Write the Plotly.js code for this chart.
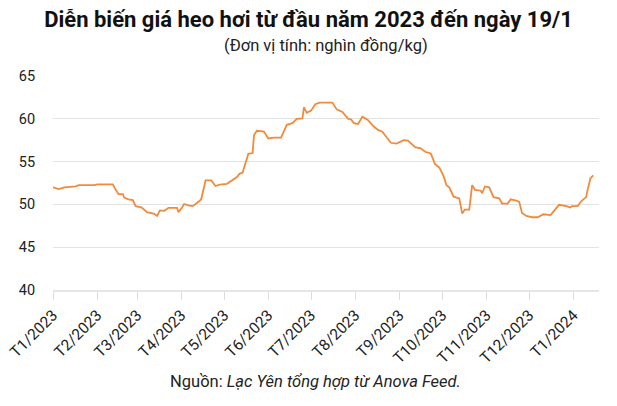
<!DOCTYPE html>
<html><head><meta charset="utf-8">
<script src="https://cdn.plot.ly/plotly-3.0.1.min.js"></script>
<style>html,body{margin:0;padding:0;background:#fff}#c{width:617px;height:406px}</style>
</head><body><div id="c"></div>
<script>
const dates = ["2023-01-01","2023-01-05","2023-01-09","2023-01-17","2023-01-19","2023-01-30","2023-02-01","2023-02-12","2023-02-14","2023-02-16","2023-02-19","2023-02-20","2023-02-23","2023-02-26","2023-02-28","2023-03-04","2023-03-08","2023-03-13","2023-03-15","2023-03-17","2023-03-20","2023-03-23","2023-03-29","2023-03-30","2023-04-01","2023-04-03","2023-04-06","2023-04-09","2023-04-13","2023-04-15","2023-04-18","2023-04-22","2023-04-25","2023-04-28","2023-05-03","2023-05-07","2023-05-10","2023-05-12","2023-05-14","2023-05-16","2023-05-18","2023-05-21","2023-05-22","2023-05-24","2023-05-29","2023-06-01","2023-06-05","2023-06-10","2023-06-14","2023-06-18","2023-06-21","2023-06-25","2023-06-26","2023-06-28","2023-07-01","2023-07-04","2023-07-07","2023-07-16","2023-07-19","2023-07-23","2023-07-27","2023-07-29","2023-07-31","2023-08-03","2023-08-06","2023-08-08","2023-08-10","2023-08-14","2023-08-17","2023-08-20","2023-08-23","2023-08-26","2023-08-30","2023-09-04","2023-09-07","2023-09-12","2023-09-16","2023-09-19","2023-09-23","2023-09-26","2023-09-29","2023-10-02","2023-10-04","2023-10-06","2023-10-09","2023-10-13","2023-10-15","2023-10-17","2023-10-20","2023-10-22","2023-10-24","2023-10-28","2023-10-29","2023-10-31","2023-11-03","2023-11-06","2023-11-10","2023-11-12","2023-11-16","2023-11-18","2023-11-22","2023-11-24","2023-11-26","2023-11-29","2023-12-03","2023-12-07","2023-12-11","2023-12-16","2023-12-18","2023-12-20","2023-12-22","2023-12-27","2023-12-30","2023-12-31","2024-01-04","2024-01-07","2024-01-10","2024-01-11","2024-01-13","2024-01-15"];
const prices = [52.0,51.8,52.0,52.1,52.25,52.25,52.35,52.35,51.7,51.2,51.2,50.8,50.6,50.5,49.8,49.65,49.1,48.9,48.65,49.3,49.25,49.6,49.6,49.1,49.5,50.05,49.9,49.8,50.3,50.6,52.8,52.8,52.15,52.3,52.4,52.8,53.2,53.6,53.7,54.8,55.9,56.0,58.1,58.6,58.5,57.7,57.8,57.8,59.3,59.5,60.0,60.05,61.35,60.7,60.95,61.7,61.9,61.9,61.1,60.8,60.0,59.95,59.5,59.4,60.25,60.05,59.85,59.1,58.7,58.5,57.9,57.2,57.1,57.5,57.45,56.7,56.55,56.15,55.95,54.7,54.3,53.3,52.25,52.0,50.9,50.7,48.95,49.4,49.4,52.25,51.7,51.6,51.3,52.1,52.0,50.85,50.7,50.1,50.1,50.6,50.45,50.3,49.0,48.65,48.5,48.5,48.85,48.75,49.15,49.55,49.95,49.8,49.65,49.8,49.8,50.45,50.85,51.7,53.05,53.4];
const tickDates = ["2023-01-01","2023-02-01","2023-03-01","2023-04-01","2023-05-01","2023-06-01","2023-07-01","2023-08-01","2023-09-01","2023-10-01","2023-11-01","2023-12-01","2024-01-01"];
const tickLabels = ["T1/2023","T2/2023","T3/2023","T4/2023","T5/2023","T6/2023","T7/2023","T8/2023","T9/2023","T10/2023","T11/2023","T12/2023","T1/2024"];
const yTicks = [40,45,50,55,60,65];

Plotly.newPlot('c', [{
  x: dates, y: prices, type: 'scatter', mode: 'lines',
  line: {color: '#f28a3c', width: 1.8}, hoverinfo: 'skip'
}], {
  width: 617, height: 406,
  margin: {l: 53, r: 18, t: 76, b: 116},
  paper_bgcolor: '#fff', plot_bgcolor: '#fff',
  font: {family: 'Roboto, Arial, sans-serif', color: '#222'},
  showlegend: false,
  title: {text: '<b>Diễn biến giá heo hơi từ đầu năm 2023 đến ngày 19/1</b>', x: 0.5, xanchor: 'center', y: 0.952, yanchor: 'middle', font: {size: 22, color: '#111'}},
  xaxis: {
    type: 'date', range: ['2023-01-01', '2024-01-19'],
    tickvals: tickDates, ticktext: tickLabels, tickangle: -45,
    tickfont: {size: 15.5, color: '#222'},
    ticks: 'outside', ticklen: 8, tickcolor: '#dddddd', tickwidth: 1,
    showgrid: false, showline: true, linecolor: '#e6e6e6', linewidth: 2,
    zeroline: false, fixedrange: true
  },
  yaxis: {
    range: [40, 65], tickvals: yTicks, ticktext: yTicks.map(String),
    tickfont: {size: 14.5, color: '#222'},
    showgrid: true, gridcolor: '#e3e3e3', gridwidth: 1,
    ticks: 'outside', ticklen: 14, tickcolor: 'rgba(0,0,0,0)',
    showline: false, zeroline: false, fixedrange: true
  },
  annotations: [
    {text: '(Đơn vị tính: nghìn đồng/kg)', xref: 'paper', yref: 'paper', x: 0.5, xanchor: 'center', y: 1, yshift: 31, yanchor: 'middle', showarrow: false, font: {size: 16.5, color: '#222'}},
    {text: 'Nguồn: <i>Lạc Yên tổng hợp từ Anova Feed.</i>', xref: 'paper', yref: 'paper', x: 0.48, xanchor: 'center', y: 0, yshift: -91, yanchor: 'middle', showarrow: false, font: {size: 16.5, color: '#222'}}
  ]
}, {displayModeBar: false, staticPlot: true});
</script></body></html>
